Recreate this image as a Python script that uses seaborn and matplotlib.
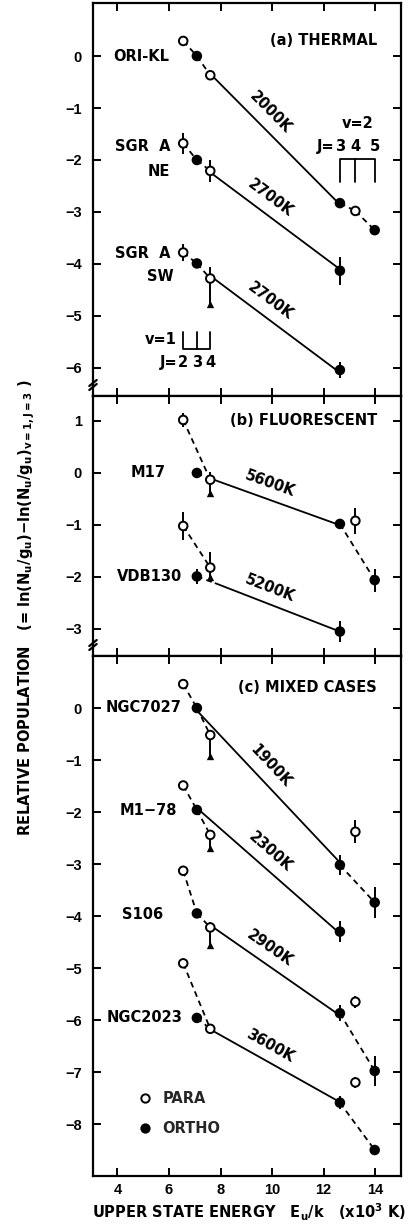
import numpy as np
import pandas as pd
import matplotlib
matplotlib.use("Agg")
import matplotlib.pyplot as plt
from matplotlib.lines import Line2D
import seaborn as sns

# ---- level energies E_u/k (10^3 K): v=1 J=2,3,4 then v=2 J=3,4,5 ----
LEVEL_E = [6.55, 7.08, 7.60, 12.63, 13.23, 13.98]
LEVEL_SPIN = ["PARA", "ORTHO", "PARA", "ORTHO", "PARA", "ORTHO"]
V1_J = ["2", "3", "4"]
V2_J = ["3", "4", "5"]

nan = np.nan
# relative populations, same level order as LEVEL_E
ORI_KL = [0.29, 0.00, -0.37, -2.83, -2.98, -3.35]
ORI_KL_ERR = [0.0, 0.0, 0.0, 0.0, 0.0, 0.0]
SGRA_NE = [-1.68, -2.00, -2.21, -4.13, nan, nan]
SGRA_NE_ERR = [0.20, 0.0, 0.21, 0.27, 0.0, 0.0]
SGRA_SW = [-3.78, -3.99, -4.28, -6.04, nan, nan]
SGRA_SW_ERR = [0.17, 0.0, 0.23, 0.15, 0.0, 0.0]
M17 = [1.02, 0.00, -0.13, -0.98, -0.92, -2.06]
M17_ERR = [0.13, 0.0, 0.15, 0.10, 0.25, 0.22]
VDB130 = [-1.02, -1.99, -1.82, -3.05, nan, nan]
VDB130_ERR = [0.26, 0.15, 0.30, 0.20, 0.0, 0.0]
NGC7027 = [0.46, 0.00, -0.52, -3.02, -2.38, -3.74]
NGC7027_ERR = [0.06, 0.0, 0.0, 0.20, 0.22, 0.29]
M1_78 = [-1.49, -1.96, -2.44, -4.30, nan, nan]
M1_78_ERR = [0.06, 0.0, 0.10, 0.20, 0.0, 0.0]
S106 = [-3.13, -3.95, -4.22, -5.87, -5.65, -6.98]
S106_ERR = [0.06, 0.0, 0.10, 0.15, 0.12, 0.29]
NGC2023 = [-4.91, -5.96, -6.17, -7.59, -7.20, -8.50]
NGC2023_ERR = [0.0, 0.0, 0.0, 0.12, 0.10, 0.06]

# lower bounds on the v=1 J=4 population (drawn as triangles)
LIMIT_SOURCE = ["SGR A SW", "M17", "VDB130", "NGC7027", "M1-78", "S106"]
LIMIT_VALUE = [-4.77, -0.38, -2.00, -0.92, -2.70, -4.56]

# excitation temperatures (K) and energy range of each straight-line fit
FIT_SOURCE = ["ORI-KL", "SGR A NE", "SGR A SW", "M17", "VDB130",
              "NGC7027", "M1-78", "S106", "NGC2023"]
FIT_T = [2000, 2700, 2700, 5600, 5200, 1900, 2300, 2900, 3600]
FIT_E0 = [7.60, 7.60, 7.60, 7.60, 7.80, 7.08, 7.08, 7.60, 7.60]
FIT_E1 = [12.63] * 9

# dashed connections between levels (indices into LEVEL_E); -1 = fit start
DASHED = {
    "ORI-KL": [(0, 1), (1, 2), (3, 4), (4, 5)],
    "SGR A NE": [(0, 1), (1, 2)],
    "SGR A SW": [(0, 1), (1, 2)],
    "M17": [(0, 2), (1, 2), (3, 5)],
    "VDB130": [(0, 2), (1, -1)],
    "NGC7027": [(0, 1), (1, 2), (3, 5)],
    "M1-78": [(0, 1), (1, 2)],
    "S106": [(0, 1), (1, 2), (3, 5)],
    "NGC2023": [(0, 2), (1, 2), (3, 5)],
}

SOURCES = {
    "ORI-KL": (ORI_KL, ORI_KL_ERR),
    "SGR A NE": (SGRA_NE, SGRA_NE_ERR),
    "SGR A SW": (SGRA_SW, SGRA_SW_ERR),
    "M17": (M17, M17_ERR),
    "VDB130": (VDB130, VDB130_ERR),
    "NGC7027": (NGC7027, NGC7027_ERR),
    "M1-78": (M1_78, M1_78_ERR),
    "S106": (S106, S106_ERR),
    "NGC2023": (NGC2023, NGC2023_ERR),
}

PANELS = [
    dict(title="(a) THERMAL", sources=["ORI-KL", "SGR A NE", "SGR A SW"],
         ylim=(-6.54, 1.02), yticks=range(-6, 1), px=(3, 396)),
    dict(title="(b) FLUORESCENT", sources=["M17", "VDB130"],
         ylim=(-3.52, 1.48), yticks=range(-3, 2), px=(396, 656)),
    dict(title="(c) MIXED CASES", sources=["NGC7027", "M1-78", "S106", "NGC2023"],
         ylim=(-9.0, 1.0), yticks=range(-8, 1), px=(656, 1176)),
]

NAME_LABELS = {
    "ORI-KL": [("ORI-KL", 3.83, 0.0)],
    "SGR A NE": [("SGR  A", 3.90, -1.75), ("NE", 5.15, -2.23)],
    "SGR A SW": [("SGR  A", 3.90, -3.79), ("SW", 5.15, -4.25)],
    "M17": [("M17", 4.50, 0.0)],
    "VDB130": [("VDB130", 3.98, -2.0)],
    "NGC7027": [("NGC7027", 3.55, 0.0)],
    "M1-78": [("M1\u221278", 4.07, -1.98)],
    "S106": [("S106", 4.19, -3.98)],
    "NGC2023": [("NGC2023", 3.58, -5.96)],
}

sns.set_theme(style="ticks")
plt.rcParams["font.family"] = ["Liberation Sans", "DejaVu Sans"]
plt.rcParams["font.weight"] = "bold"
plt.rcParams["mathtext.default"] = "regular"
plt.rcParams["axes.unicode_minus"] = True

W, H = 415, 1225
fig = plt.figure(figsize=(W / 100, H / 100), dpi=100)
fig.patch.set_facecolor("white")

FS = 10.5
LBL = dict(family="DejaVu Sans", weight="bold", size=10.5, color="black")
LX0, LX1 = 93, 401
XLIM = (3.05, 15.0)
TEMP_LABEL_X = 9.92      # horizontal centre of the temperature labels
TEMP_LABEL_OFF = 11.0    # distance of the labels from their line, points


def fit_line(src):
    i = FIT_SOURCE.index(src)
    vals = SOURCES[src][0]
    slope = -1000.0 / FIT_T[i]
    e0, e1 = FIT_E0[i], FIT_E1[i]
    y1 = vals[LEVEL_E.index(e1)]
    if e0 in LEVEL_E:
        y0obs = vals[LEVEL_E.index(e0)]
        # pass through the midpoint of the two anchoring points
        xm, ym = (e0 + e1) / 2, (y0obs + y1) / 2
    else:
        xm, ym = e1, y1
    return (e0, ym + slope * (e0 - xm)), (e1, ym + slope * (e1 - xm))


axes = []
for k, p in enumerate(PANELS):
    top, bot = p["px"]
    ax = fig.add_axes([LX0 / W, 1 - bot / H, (LX1 - LX0) / W, (bot - top) / H])
    axes.append(ax)
    ax.set_xlim(*XLIM)
    ax.set_ylim(*p["ylim"])
    ax.set_yticks(list(p["yticks"]))
    ax.set_xticks([4, 6, 8, 10, 12, 14])
    ax.tick_params(direction="in", top=True, right=True, length=6, width=1.4,
                   labelsize=FS, pad=5, colors="black")
    ax.tick_params(axis="y", pad=8)
    if k < 2:
        ax.tick_params(labelbottom=False)
    for s in ax.spines.values():
        s.set_linewidth(1.6)
        s.set_color("black")
    ax.set_facecolor("white")

    rows = []
    for src in p["sources"]:
        vals, errs = SOURCES[src]
        for e, v, sp in zip(LEVEL_E, vals, LEVEL_SPIN):
            if not np.isnan(v):
                rows.append(dict(source=src, E=e, pop=v, spin=sp))
    df = pd.DataFrame(rows)

    for src in p["sources"]:
        vals, errs = SOURCES[src]
        (fx0, fy0), (fx1, fy1) = fit_line(src)
        # straight-line fit
        sns.lineplot(x=[fx0, fx1], y=[fy0, fy1], ax=ax, color="black", lw=1.3,
                     estimator=None, sort=False, zorder=2)
        # dashed level connections
        for a, b in DASHED[src]:
            xa, ya = LEVEL_E[a], vals[a]
            if b == -1:
                xb, yb = fx0, fy0
            else:
                xb, yb = LEVEL_E[b], vals[b]
            ax.plot([xa, xb], [ya, yb], color="black", lw=1.3,
                    dashes=(3.2, 2.4), zorder=2)
        # error bars
        lo = list(errs)
        hi = list(errs)
        if src in LIMIT_SOURCE:
            lim = LIMIT_VALUE[LIMIT_SOURCE.index(src)]
            lo[2] = vals[2] - lim
            ax.scatter([LEVEL_E[2]], [lim], marker="^", s=28, color="black",
                       zorder=3, linewidths=0)
        ok = [not np.isnan(v) for v in vals]
        ax.errorbar(np.array(LEVEL_E)[ok], np.array(vals)[ok],
                    yerr=[np.array(lo)[ok], np.array(hi)[ok]], fmt="none",
                    ecolor="black", elinewidth=1.4, capsize=0, zorder=2)
        # temperature label along the fit, offset perpendicular to it
        p0 = ax.transData.transform((fx0, fy0))
        p1 = ax.transData.transform((fx1, fy1))
        ang = np.degrees(np.arctan2(p1[1] - p0[1], p1[0] - p0[0]))
        nrm = np.radians(ang + 90)
        dx_pt, dy_pt = TEMP_LABEL_OFF * np.cos(nrm), TEMP_LABEL_OFF * np.sin(nrm)
        target_px = ax.transData.transform((TEMP_LABEL_X, 0))[0]
        anchor_px = target_px - dx_pt * fig.dpi / 72
        xm = ax.transData.inverted().transform((anchor_px, 0))[0]
        ym = fy0 + (xm - fx0) * (fy1 - fy0) / (fx1 - fx0)
        ax.annotate(f"{FIT_T[FIT_SOURCE.index(src)]}K", (xm, ym),
                    xytext=(dx_pt, dy_pt), textcoords="offset points",
                    rotation=ang, rotation_mode="anchor",
                    ha="center", va="center", **LBL)
        for txt, tx, ty in NAME_LABELS[src]:
            ax.text(tx, ty, txt, ha="left", va="center", **LBL)

    sns.scatterplot(data=df, x="E", y="pop", hue="spin",
                    palette={"PARA": "white", "ORTHO": "black"},
                    edgecolor="black", linewidth=1.4, s=38, ax=ax,
                    legend=False, zorder=4)
    ax.set_xlabel("")
    ax.set_ylabel("")

    ax.text(0.922, [0.905, 0.905, 0.94][k], p["title"], transform=ax.transAxes,
            ha="right", va="center", **LBL)

    # axis break marks
    if k < 2:
        for dy in (0.0, 4.0):
            yb = (9 + dy) / (bot - top)
            ax.plot([-0.012, 0.012], [yb - 3.0 / (bot - top), yb + 3.0 / (bot - top)],
                    transform=ax.transAxes, color="black", lw=1.6, clip_on=False)

axA, axB, axC = axes

# v=2 level bracket (panel a)
axA.plot([LEVEL_E[3], LEVEL_E[3], LEVEL_E[5], LEVEL_E[5]], [-2.42, -1.98, -1.98, -2.42],
         color="black", lw=1.3)
axA.plot([LEVEL_E[4], LEVEL_E[4]], [-1.98, -2.42], color="black", lw=1.3)
for e, j in zip(LEVEL_E[3:], V2_J):
    axA.text(e, -1.74, j, ha="center", va="center", **LBL)
axA.text(LEVEL_E[3] - 0.22, -1.74, "J=", ha="right", va="center", **LBL)
axA.text(LEVEL_E[4] + 0.1, -1.29, "v=2", ha="center", va="center", **LBL)

# v=1 level bracket (panel a)
axA.plot([LEVEL_E[0], LEVEL_E[0], LEVEL_E[2], LEVEL_E[2]], [-5.31, -5.63, -5.63, -5.31],
         color="black", lw=1.3)
axA.plot([LEVEL_E[1], LEVEL_E[1]], [-5.63, -5.31], color="black", lw=1.3)
for e, j in zip(LEVEL_E[:3], V1_J):
    axA.text(e, -5.90, j, ha="center", va="center", **LBL)
axA.text(LEVEL_E[0] - 0.22, -5.90, "J=", ha="right", va="center", **LBL)
axA.text(LEVEL_E[0] - 0.25, -5.46, "v=1", ha="right", va="center", **LBL)

# spin legend
handles = [
    Line2D([], [], ls="", marker="o", mfc="white", mec="black", mew=1.4, ms=6.0),
    Line2D([], [], ls="", marker="o", mfc="black", mec="black", mew=1.4, ms=6.0),
]
leg = axC.legend(handles, ["PARA", "ORTHO"], loc="upper left",
                 bbox_to_anchor=(0.144, 0.164), frameon=False,
                 prop=dict(family="DejaVu Sans", weight="bold", size=10.5),
                 handlelength=1.0, handletextpad=0.7, labelspacing=1.05,
                 borderpad=0.0, borderaxespad=0.0)

fig.text(249 / W, 1 - 1212 / H,
         "UPPER STATE ENERGY   E$_u$/k   (x10$^3$ K)",
         ha="center", va="center", **LBL)
fig.text(27 / W, 1 - 608 / H,
         "RELATIVE POPULATION   (= ln(N$_u$/g$_u$)$-$ln(N$_u$/g$_u$)$_{v=1,J=3}$ )",
         rotation=90, ha="center", va="center", **LBL)

fig.savefig("out.png", dpi=100, facecolor="white")
